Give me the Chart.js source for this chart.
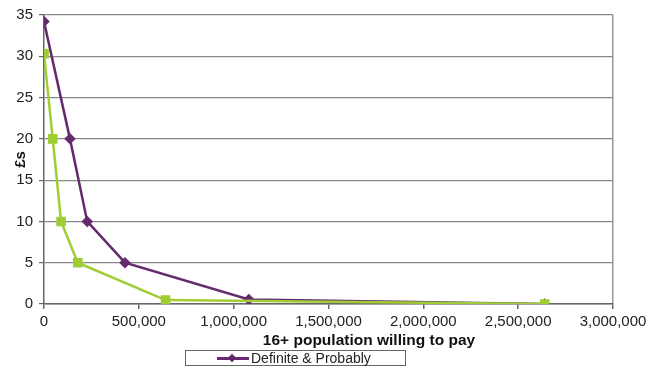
<!DOCTYPE html>
<html>
<head>
<meta charset="utf-8">
<script src="https://cdn.jsdelivr.net/npm/chart.js@4/dist/chart.umd.min.js"></script>
<style>
  html, body { margin: 0; padding: 0; background: #fff; }
  #wrap { position: relative; width: 651px; height: 369px; font-family: "Liberation Sans", Arial, sans-serif; }
  #c { position: absolute; left: 0; top: 0; }
  #xtitle { position: absolute; left: 369px; top: 340px; transform: translate(-50%, -50%); font-weight: bold; font-size: 15.5px; color: #111; white-space: nowrap; }
  #legend { position: absolute; left: 185px; top: 350px; width: 221px; height: 16px; border: 1px solid #666; box-sizing: border-box; background: #fff; font-size: 14px; color: #222; }
  #legend .sw { position: absolute; left: 31px; top: 6px; width: 32px; height: 2.5px; background: #652a6e; }
  #legend .dm { position: absolute; left: 43px; top: 3.5px; width: 6px; height: 6px; background: #652a6e; transform: rotate(45deg); }
  #legend .tx { position: absolute; left: 65px; top: -2px; line-height: 18px; white-space: nowrap; }
</style>
</head>
<body>
<div id="wrap">
  <canvas id="c" width="651" height="369"></canvas>
  <div id="xtitle">16+ population willing to pay</div>
  <div id="legend"><div class="sw"></div><div class="dm"></div><div class="tx">Definite &amp; Probably</div></div>
</div>
<script>
const seriesNames = ["Definite & Probably", "Definitely"];
const purpleX = [0, 137000, 228000, 427000, 1080000, 2640000];
const purpleY = [34.2, 20, 10, 5, 0.55, 0];
const greenX = [0, 46000, 90000, 178000, 641000, 2640000];
const greenY = [30.3, 20, 10, 5, 0.48, 0];
const xTicks = [0, 500000, 1000000, 1500000, 2000000, 2500000, 3000000];
const yTicks = [0, 5, 10, 15, 20, 25, 30, 35];

const toPts = (xs, ys) => xs.map((x, i) => ({ x: x, y: ys[i] }));
const FONT = "'Liberation Sans', Arial, sans-serif";

new Chart(document.getElementById('c'), {
  type: 'scatter',
  data: {
    datasets: [
      {
        label: seriesNames[1],
        data: toPts(greenX, greenY),
        showLine: true,
        borderColor: '#a0cc34',
        backgroundColor: '#a0cc34',
        borderWidth: 2.5,
        pointStyle: 'rect',
        pointRadius: 5,
        pointHoverRadius: 5,
        tension: 0
      },
      {
        label: seriesNames[0],
        data: toPts(purpleX, purpleY),
        showLine: true,
        borderColor: '#652a6e',
        backgroundColor: '#652a6e',
        borderWidth: 2.5,
        pointStyle: 'rectRot',
        pointRadius: 4,
        pointHoverRadius: 4,
        tension: 0
      }
    ]
  },
  options: {
    responsive: false,
    animation: false,
    layout: { padding: { left: 0, right: 38, top: 14, bottom: 0 } },
    plugins: { legend: { display: false }, tooltip: { enabled: false } },
    scales: {
      x: {
        type: 'linear',
        min: 0, max: 3000000,
        afterBuildTicks: s => { s.ticks = xTicks.map(v => ({ value: v })); },
        afterFit: s => { s.height = 65; },
        border: { display: true, color: '#666', width: 1.5 },
        grid: {
          drawOnChartArea: true,
          drawTicks: true,
          tickLength: 5,
          tickColor: '#666',
          color: ctx => (ctx.tick && ctx.tick.value === 3000000) ? '#999' : 'rgba(0,0,0,0)',
          lineWidth: 1.5
        },
        ticks: {
          padding: 4,
          color: '#222',
          font: { family: FONT, size: 15 },
          maxRotation: 0,
          callback: v => Number(v).toLocaleString('en-US')
        }
      },
      y: {
        min: 0, max: 35,
        afterBuildTicks: s => { s.ticks = yTicks.map(v => ({ value: v })); },
        afterFit: s => { s.width = 44; },
        border: { display: true, color: '#666', width: 1.5 },
        grid: {
          color: '#888',
          lineWidth: 1.2,
          tickLength: 5,
          tickColor: '#666'
        },
        ticks: {
          padding: 6,
          color: '#222',
          font: { family: FONT, size: 15 }
        },
        title: {
          display: true,
          text: '£s',
          color: '#111',
          font: { family: FONT, size: 15, weight: 'bold' },
          padding: { top: 12, bottom: 0 }
        }
      }
    }
  }
});
</script>
</body>
</html>
